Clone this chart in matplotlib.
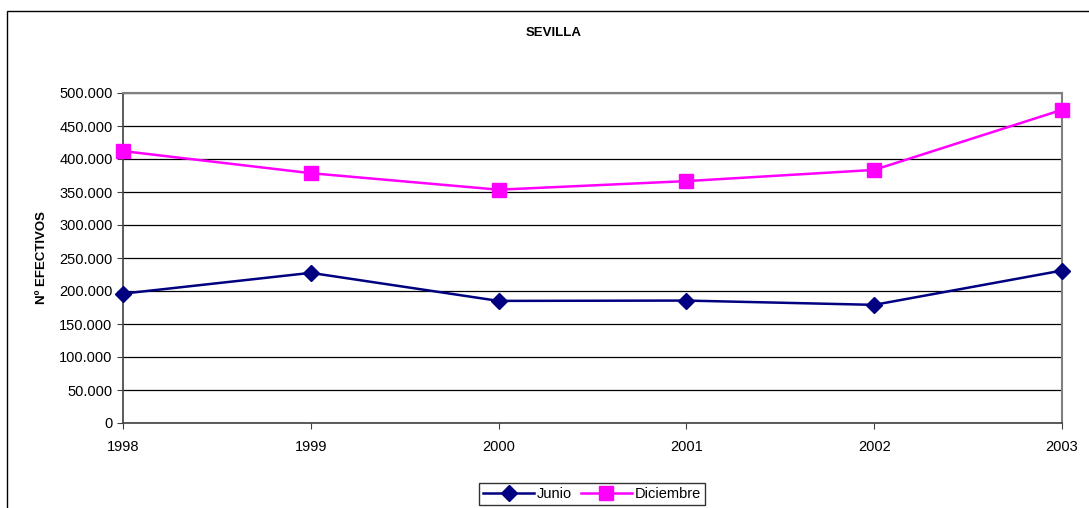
import matplotlib
matplotlib.use('Agg')
from matplotlib import pyplot as plt
from matplotlib.patches import Rectangle
from matplotlib.ticker import FuncFormatter

years = ['1998', '1999', '2000', '2001', '2002', '2003']
junio = [196000, 227500, 185000, 185500, 179000, 231000]
diciembre = [412000, 378500, 353500, 366500, 383500, 474500]

plt.rcParams['font.family'] = ['Liberation Sans', 'DejaVu Sans']

fig = plt.figure(figsize=(10.89, 5.08), dpi=100)
ax = fig.add_axes([123 / 1089, 1 - 423 / 508, (1062 - 123) / 1089, (423 - 93) / 508])

x = list(range(len(years)))
ax.plot(x, junio, color='#000080', marker='D', markersize=8, linewidth=1.8, label='Junio', clip_on=False, zorder=3)
ax.plot(x, diciembre, color='#FF00FF', marker='s', markersize=10.5, linewidth=1.8, label='Diciembre', clip_on=False, zorder=3)

ax.set_xlim(0, len(years) - 1)
ax.set_ylim(0, 500000)
ax.set_xticks(x)
ax.set_xticklabels(years)
ax.set_yticks(range(0, 500001, 50000))
ax.yaxis.set_major_formatter(FuncFormatter(lambda v, p: '{:,.0f}'.format(v).replace(',', '.')))
ax.grid(axis='y', color='black', linewidth=0.9)
ax.set_axisbelow(True)
ax.tick_params(axis='both', labelsize=10.5, direction='out', length=4, color='#404040')
ax.tick_params(axis='x', pad=8)
ax.set_ylabel('Nº EFECTIVOS', fontsize=9.5, fontweight='bold', labelpad=8)

for s in ['top', 'right']:
    ax.spines[s].set_color('#808080')
    ax.spines[s].set_linewidth(1.5)
for s in ['left', 'bottom']:
    ax.spines[s].set_color('#404040')
    ax.spines[s].set_linewidth(1.2)

fig.text(554 / 1089, 1 - 33 / 508, 'SEVILLA', ha='center', va='center', fontsize=9.5, fontweight='bold')

leg = fig.legend(loc='center', bbox_to_anchor=(592 / 1089, 1 - 494 / 508), ncol=2, fontsize=10.5,
                 frameon=True, fancybox=False, edgecolor='black', handlelength=3.5,
                 columnspacing=0.6, handletextpad=0.2, borderpad=0.3)
leg.get_frame().set_linewidth(1)

fig.patches.append(Rectangle((7 / 1089, -0.2), 1.2, 1 - 11 / 508 + 0.2, transform=fig.transFigure,
                             fill=False, edgecolor='black', linewidth=1))

fig.savefig('out.png', dpi=100)
